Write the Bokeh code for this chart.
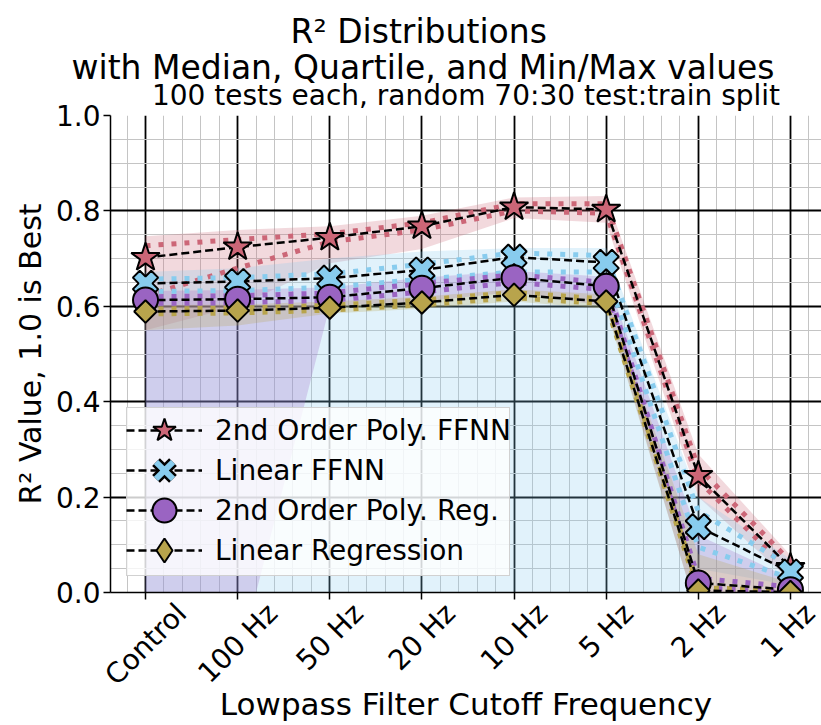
import numpy as np
from bokeh.plotting import figure
from bokeh.models import (Range1d, FixedTicker, SingleIntervalTicker, Title, LinearAxis,
                          Legend, LegendItem, PrintfTickFormatter, CustomJSTickFormatter)
from bokeh.embed import file_html
from bokeh.resources import INLINE

# ---------------- data ----------------
categories = ["Control", "100 Hz", "50 Hz", "20 Hz", "10 Hz", "5 Hz", "2 Hz", "1 Hz"]
series_names = ["2nd Order Poly. FFNN", "Linear FFNN", "2nd Order Poly. Reg.", "Linear Regression"]

poly_ffnn_median = [0.702, 0.724, 0.744, 0.768, 0.808, 0.803, 0.245, 0.052]
poly_ffnn_q1     = [0.622, 0.680, 0.735, 0.760, 0.800, 0.795, 0.235, 0.042]
poly_ffnn_q3     = [0.727, 0.740, 0.752, 0.775, 0.815, 0.815, 0.262, 0.065]
poly_ffnn_min    = [0.550, 0.600, 0.690, 0.720, 0.785, 0.775, 0.200, 0.025]
poly_ffnn_max    = [0.747, 0.760, 0.768, 0.790, 0.828, 0.831, 0.290, 0.078]

lin_ffnn_median = [0.648, 0.652, 0.659, 0.676, 0.703, 0.692, 0.138, 0.043]
lin_ffnn_q1     = [0.631, 0.633, 0.640, 0.657, 0.672, 0.672, 0.095, 0.030]
lin_ffnn_q3     = [0.657, 0.660, 0.668, 0.688, 0.712, 0.706, 0.170, 0.055]
lin_ffnn_min    = [-0.40, -0.40, -0.40, -0.40, -0.40, -0.35, 0.050, 0.015]
lin_ffnn_max    = [0.672, 0.680, 0.700, 0.715, 0.722, 0.722, 0.200, 0.070]

poly_reg_median = [0.613, 0.615, 0.619, 0.638, 0.660, 0.642, 0.020, 0.006]
poly_reg_q1     = [0.606, 0.608, 0.612, 0.630, 0.650, 0.635, 0.010, 0.002]
poly_reg_q3     = [0.620, 0.622, 0.628, 0.648, 0.666, 0.650, 0.030, 0.012]
poly_reg_min    = [-0.40, -0.15, 0.600, 0.610, 0.630, 0.600, -0.050, -0.010]
poly_reg_max    = [0.632, 0.634, 0.640, 0.660, 0.674, 0.662, 0.120, 0.030]

lin_reg_median = [0.589, 0.591, 0.597, 0.608, 0.624, 0.610, 0.004, 0.001]
lin_reg_q1     = [0.584, 0.586, 0.592, 0.603, 0.618, 0.605, 0.000, -0.002]
lin_reg_q3     = [0.594, 0.596, 0.602, 0.613, 0.629, 0.615, 0.010, 0.004]
lin_reg_min    = [0.550, 0.560, 0.585, 0.595, 0.610, 0.595, -0.050, -0.010]
lin_reg_max    = [0.602, 0.604, 0.610, 0.620, 0.636, 0.625, 0.080, 0.020]

# ---------------- styling ----------------
FONT = "DejaVu Sans"
colors = ["#CC6677", "#88CCEE", "#9A64C2", "#B8A44C"]
FILL_ALPHA = 0.25

series = [
    (poly_ffnn_median, poly_ffnn_q1, poly_ffnn_q3, poly_ffnn_min, poly_ffnn_max),
    (lin_ffnn_median, lin_ffnn_q1, lin_ffnn_q3, lin_ffnn_min, lin_ffnn_max),
    (poly_reg_median, poly_reg_q1, poly_reg_q3, poly_reg_min, poly_reg_max),
    (lin_reg_median, lin_reg_q1, lin_reg_q3, lin_reg_min, lin_reg_max),
]

idx = list(range(len(categories)))
X0, X1 = -0.38, 7.337
W, H = 821, 725
BL, BT, BB = 110, 114, 132

p = figure(width=W, height=H, output_backend="svg", toolbar_location=None, title=None,
           x_range=Range1d(X0, X1), y_range=Range1d(0, 1),
           min_border_left=BL, min_border_right=0, min_border_top=BT, min_border_bottom=BB)
p.background_fill_color = "white"
p.border_fill_color = "white"
p.outline_line_color = None

# ---- x axis carrying only the tick marks ----
minor_x = [round(v, 3) for v in np.arange(-0.2, 7.3, 0.2) if abs(v - round(v)) > 1e-6]
xt = FixedTicker(ticks=idx, minor_ticks=minor_x)
axA = p.xaxis[0]
axA.ticker = xt
axA.formatter = CustomJSTickFormatter(code="return '';")
axA.major_label_text_font_size = "1px"
axA.major_label_standoff = 0
axA.major_tick_out = 7
axA.major_tick_in = 0
axA.minor_tick_out = 0
axA.minor_tick_in = 0
axA.axis_line_width = 1.5
axA.major_tick_line_width = 1.5
p.xgrid.ticker = xt

# ---- y axis ----
yt = SingleIntervalTicker(interval=0.2, num_minor_ticks=4)
ay = p.yaxis[0]
ay.ticker = yt
p.ygrid.ticker = yt
ay.formatter = PrintfTickFormatter(format="%.1f")
ay.major_label_text_font = FONT
ay.major_label_text_font_size = "28px"
ay.major_label_text_color = "black"
ay.major_tick_out = 7
ay.major_tick_in = 0
ay.minor_tick_out = 0
ay.minor_tick_in = 0
ay.major_label_standoff = 3
ay.axis_line_width = 1.5
ay.major_tick_line_width = 1.5
ay.axis_label = "R\u00b2 Value, 1.0 is Best"
ay.axis_label_text_font = FONT
ay.axis_label_text_font_size = "30px"
ay.axis_label_text_font_style = "normal"
ay.axis_label_text_color = "black"
ay.axis_label_standoff = 5

for g in (p.xgrid, p.ygrid):
    g.grid_line_color = "black"
    g.grid_line_width = 1.8
    g.minor_grid_line_color = "#c4c4c4"
    g.minor_grid_line_width = 1

# ---- category labels: rotated 45 deg, box centred on the tick as in the original ----
adv = {'C': 0.698, 'o': 0.612, 'n': 0.634, 't': 0.392, 'r': 0.411, 'l': 0.278, '1': 0.636,
       '0': 0.636, '5': 0.636, '2': 0.636, ' ': 0.318, 'H': 0.752, 'z': 0.525}
fs = 28
ppu = (W - BL) / (X1 - X0)
shift = [sum(adv.get(ch, 0.6) for ch in s) * fs / (2 * np.sqrt(2)) / ppu for s in categories]
label_ticks = [i + s for i, s in zip(idx, shift)]
axB = LinearAxis(ticker=FixedTicker(ticks=label_ticks, minor_ticks=[]),
                 formatter=CustomJSTickFormatter(args=dict(labels=categories),
                                                 code="return labels[index];"),
                 major_label_orientation=np.pi / 4,
                 axis_line_color=None, major_tick_line_color=None, minor_tick_line_color=None,
                 major_tick_out=0, major_tick_in=0, minor_tick_out=0, minor_tick_in=0,
                 major_label_standoff=9,
                 major_label_text_font=FONT, major_label_text_font_size="28px",
                 major_label_text_color="black",
                 axis_label="Lowpass Filter Cutoff Frequency",
                 axis_label_text_font=FONT, axis_label_text_font_size="31px",
                 axis_label_text_font_style="normal", axis_label_text_color="black",
                 axis_label_standoff=-20)
p.add_layout(axB, "below")

# ---- titles (first added sits closest to the plot) ----
t3 = Title(text="100 tests each, random 70:30 test:train split", align="center",
           text_font=FONT, text_font_size="28px", text_font_style="normal",
           text_color="black", standoff=8)
t2 = Title(text="with Median, Quartile, and Min/Max values", align="left", offset=-39,
           text_font=FONT, text_font_size="33px", text_font_style="normal",
           text_color="black", standoff=-28)
t1 = Title(text="R\u00b2 Distributions", align="left", offset=180,
           text_font=FONT, text_font_size="33px", text_font_style="normal",
           text_color="black", standoff=18)
for t in (t3, t2, t1):
    p.add_layout(t, "above")

# ---- min/max bands ----
for c, (med, q1, q3, mn, mx) in zip(colors, series):
    p.varea(x=idx, y1=mn, y2=mx, fill_color=c, fill_alpha=FILL_ALPHA)

# ---- quartile dotted lines ----
for c, (med, q1, q3, mn, mx) in zip(colors, series):
    p.line(idx, q1, line_color=c, line_width=5, line_dash="5 8")
    p.line(idx, q3, line_color=c, line_width=5, line_dash="5 8")

# ---- medians with markers ----
med_lines = []
for (med, q1, q3, mn, mx) in series:
    med_lines.append(p.line(idx, med, line_color="black", line_width=2.5, line_dash="8 4"))

# legend-shape markers (small, hidden under the real markers; the legend draws them full size)
star_r = p.scatter(idx, poly_ffnn_median, marker="star", size=30, fill_color=colors[0],
                   line_color="black", line_width=2)
xo_r = p.scatter(idx, lin_ffnn_median, marker="x", size=8, line_color="black", line_width=11)
xi_r = p.scatter(idx, lin_ffnn_median, marker="x", size=8, line_color=colors[1], line_width=6)
plus_r = p.scatter(idx, lin_ffnn_median, marker="plus", size=26, angle=np.pi / 4,
                   fill_color=colors[1], line_color="black", line_width=2)
circ_r = p.scatter(idx, poly_reg_median, marker="circle", size=25, fill_color=colors[2],
                   line_color="black", line_width=2)
dia_r = p.scatter(idx, lin_reg_median, marker="diamond", size=8, fill_color=colors[3],
                  line_color="black", line_width=2)
sq_r = p.scatter(idx, lin_reg_median, marker="square", size=16, angle=np.pi / 4,
                 fill_color=colors[3], line_color="black", line_width=2)

# ---- legend: a framed box plus one row-legend per entry (40 px pitch) ----
box_helper = p.line(idx, poly_ffnn_median, line_alpha=0)
box_legend = Legend(items=[LegendItem(label=" ", renderers=[box_helper])], location=(16, 16),
                    glyph_width=382, glyph_height=167, label_height=167, label_width=0,
                    label_standoff=0, padding=0, margin=0,
                    label_text_font=FONT, label_text_font_size="28px",
                    background_fill_color="white", background_fill_alpha=0.8,
                    border_line_color="#cccccc", border_line_alpha=0.9, border_line_width=1)
p.add_layout(box_legend)

row_renderers = [
    [med_lines[0], star_r],
    [med_lines[1], xo_r, xi_r],
    [med_lines[2], circ_r],
    [med_lines[3], dia_r],
]
for k, (name, rends) in enumerate(zip(series_names, row_renderers)):
    lg = Legend(items=[LegendItem(label=name, renderers=rends)],
                location=(16, 132 - 40 * k),
                glyph_width=76, glyph_height=60, label_height=60, label_standoff=13,
                padding=0, margin=0,
                label_text_font=FONT, label_text_font_size="28px", label_text_color="black",
                background_fill_alpha=0, border_line_color=None)
    p.add_layout(lg)

open("out.html", "w").write(file_html(p, INLINE))
